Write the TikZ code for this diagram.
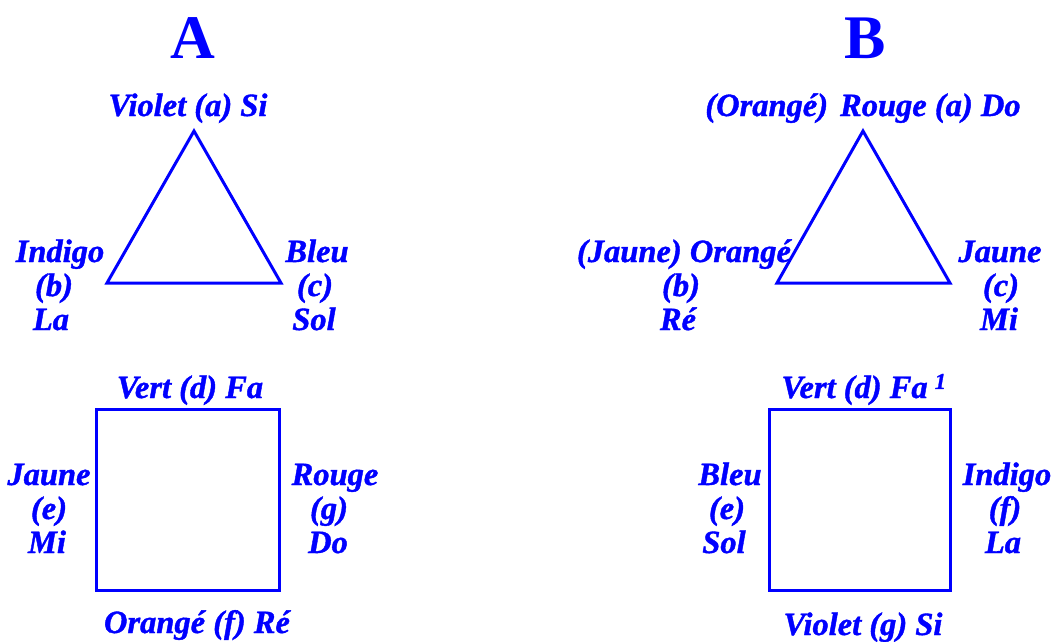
\documentclass[tikz,border=0pt]{standalone}
\usepackage{fontspec}
\setmainfont{Liberation Serif}[BoldItalicFeatures={FakeBold=1.2}]
\definecolor{pureblue}{RGB}{0,0,255}
\begin{document}
\begin{tikzpicture}[x=1pt,y=-1pt,
  lbl/.style={anchor=base,inner sep=0pt,text=pureblue,font=\fontsize{32.5}{36}\selectfont\bfseries\itshape},
  big/.style={anchor=base,inner sep=0pt,text=pureblue,font=\fontsize{62}{70}\selectfont\bfseries},
  figline/.style={draw=pureblue,line width=3pt,line join=miter}]
\useasboundingbox (0,0) rectangle (1053,641);
% Titles
\node[big] (tA) at (193,58) {A};
\node[big] (tB) at (865,58) {B};
% Triangle A
\coordinate (a1) at (194,131);
\coordinate (a2) at (107,283);
\coordinate (a3) at (281,283);
\draw[figline] (a1) -- (a2) -- (a3) -- cycle;
\node[lbl] (aTop) at (188,116) {Violet (a) Si};
\node[lbl] (aL1) at (60,262) {Indigo};
\node[lbl] (aL2) at (54,296) {(b)};
\node[lbl] (aL3) at (51,330) {La};
\node[lbl] (aR1) at (317,262) {Bleu};
\node[lbl] (aR2) at (315,296) {(c)};
\node[lbl] (aR3) at (314,330) {Sol};
% Square A
\draw[figline] (96,409) rectangle (279,590);
\node[lbl] (sATop) at (190,398) {Vert (d) Fa};
\node[lbl] (sAL1) at (49,485) {Jaune};
\node[lbl] (sAL2) at (49,519) {(e)};
\node[lbl] (sAL3) at (47,553) {Mi};
\node[lbl] (sAR1) at (335,485) {Rouge};
\node[lbl] (sAR2) at (329,519) {(g)};
\node[lbl] (sAR3) at (328,553) {Do};
\node[lbl] (sABot) at (197,633) {Orangé (f) Ré};
% Triangle B
\coordinate (b1) at (863,131);
\coordinate (b2) at (777,283);
\coordinate (b3) at (950,283);
\draw[figline] (b1) -- (b2) -- (b3) -- cycle;
\node[lbl] (bTop) at (863,116) {(Orangé)\hspace{12pt}Rouge (a) Do};
\node[lbl] (bL1) at (684,262) {(Jaune) Orangé};
\node[lbl] (bL2) at (681,296) {(b)};
\node[lbl] (bL3) at (678,330) {Ré};
\node[lbl] (bR1) at (1000,262) {Jaune};
\node[lbl] (bR2) at (1001,296) {(c)};
\node[lbl] (bR3) at (999,330) {Mi};
% Square B
\draw[figline] (769,409) rectangle (950,590);
\node[lbl] (sBTop) at (864,398) {Vert (d) Fa\hspace{7pt}\textsuperscript{1}};
\node[lbl] (sBL1) at (730,485) {Bleu};
\node[lbl] (sBL2) at (727,519) {(e)};
\node[lbl] (sBL3) at (724,553) {Sol};
\node[lbl] (sBR1) at (1007,485) {Indigo};
\node[lbl] (sBR2) at (1005,519) {(f)};
\node[lbl] (sBR3) at (1003,553) {La};
\node[lbl] (sBBot) at (863,635) {Violet (g) Si};
\end{tikzpicture}
\end{document}
